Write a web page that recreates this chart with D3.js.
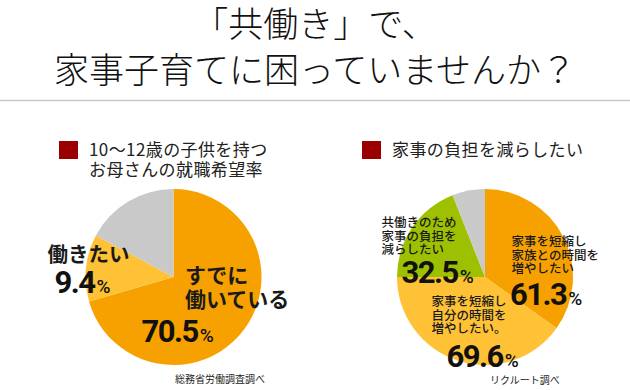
<!DOCTYPE html>
<html lang="ja">
<head>
<meta charset="utf-8">
<script src="https://cdn.jsdelivr.net/npm/d3@7"></script>
<style>
  html, body { margin: 0; padding: 0; background: #fff; }
  svg { display: block; }
  .jp { font-family: "Noto Sans CJK JP", "Noto Sans CJK SC", sans-serif; }
  .num { font-family: Roboto, "Liberation Sans", sans-serif; font-weight: 700; }
</style>
</head>
<body>
<div id="chart"></div>
<script>
// title + headings
var titleLines = ["「共働き」で、", "家事子育てに困っていませんか？"];
var leftHead = ["10～12歳の子供を持つ", "お母さんの就職希望率"];
var rightHead = ["家事の負担を減らしたい"];

// left pie: share of the circle as drawn, and the printed answers
var leftCats = ["すでに働いている", "働きたい", "その他"];
var leftShares = [70.5, 12.3, 17.2];
var leftValues = ["70.5", "9.4", null];
var leftSource = "総務省労働調査調べ";

// right pie (multiple answers, so circle shares differ from printed numbers)
var rightCats = [
  ["家事を短縮し", "家族との時間を", "増やしたい"],
  ["家事を短縮し", "自分の時間を", "増やしたい。"],
  ["共働きのため", "家事の負担を", "減らしたい"],
  []
];
var rightShares = [34.9, 40.1, 19.0, 6.0];
var rightValues = ["61.3", "69.6", "32.5", null];
var rightSource = "リクルート調べ";

var leftColors = ["#f7a100", "#ffc236", "#c9c9c9"];
var rightColors = ["#f7a100", "#ffc236", "#9dc100", "#c9c9c9"];

var width = 630, height = 390, R = 88;

var svg = d3.select("#chart").append("svg")
    .attr("width", width)
    .attr("height", height);

// multi-line text as one element with tspans
function block(parent, x, y, arr, lh) {
    var t = parent.append("text")
        .attr("class", "jp")
        .attr("x", x).attr("y", y);
    t.selectAll("tspan")
        .data(arr)
        .enter().append("tspan")
        .attr("x", x)
        .attr("dy", function(d, i){ return i ? lh : 0; })
        .text(function(d){ return d; });
    return t;
}

// title
block(svg, 315, 37, titleLines, 46)
    .attr("text-anchor", "middle")
    .style("font-size", "35px")
    .style("font-weight", 300)
    .attr("fill", "#111");

svg.append("line")
    .attr("x1", 0).attr("x2", width)
    .attr("y1", 100.5).attr("y2", 100.5)
    .attr("stroke", "#c8c8c8")
    .attr("stroke-width", 1.5);

function heading(x, lines) {
    svg.append("rect")
        .attr("x", x).attr("y", 141)
        .attr("width", 19).attr("height", 18)
        .attr("fill", "#9b0000");
    block(svg, x + 30, 156, lines, 20)
        .style("font-size", "17px")
        .style("letter-spacing", "0.4px")
        .attr("fill", "#222");
}
heading(59, leftHead);
heading(362, rightHead);

var pie = d3.pie().sort(null).value(function(d){ return d; });
var arc = d3.arc().innerRadius(0).outerRadius(R);

function drawPie(cx, cy, shares, colors) {
    var g = svg.append("g").attr("transform", "translate(" + cx + "," + cy + ")");
    g.selectAll("path")
        .data(pie(shares))
        .enter().append("path")
        .attr("d", arc)
        .attr("fill", function(d, i){ return colors[i]; });
    return g;
}

function bigNum(g, x, y, v, size) {
    var t = g.append("text")
        .attr("class", "num")
        .attr("x", x).attr("y", y)
        .attr("fill", "#111")
        .style("font-size", size + "px")
        .style("letter-spacing", "-1.5px");
    t.append("tspan").text(v);
    t.append("tspan")
        .style("font-size", "19px")
        .style("font-weight", 500)
        .style("letter-spacing", "0px")
        .attr("dx", 2)
        .text("%");
}

function label(g, x, y, arr, size, lh, weight) {
    block(g, x, y, arr, lh)
        .style("font-size", size + "px")
        .style("font-weight", weight)
        .attr("fill", "#1a1a1a");
}

// left pie
var gl = drawPie(173.5, 277, leftShares, leftColors);
label(gl, 11.5, 6, ["すでに", "働いている"], 21, 24, 700);
bigNum(gl, -32, 65, leftValues[0], 31);
label(gl, -126, -15, [leftCats[1]], 20.5, 0, 700);
bigNum(gl, -119, 16, leftValues[1], 31);

// right pie
var gr = drawPie(485, 277, rightShares, rightColors);
label(gr, 26.5, -31, rightCats[0], 12.5, 13.5, 500);
bigNum(gr, 25, 28, rightValues[0], 31);
label(gr, -53.5, 29, rightCats[1], 12.5, 13.5, 500);
bigNum(gr, -38.5, 90, rightValues[1], 31);
label(gr, -103.5, -50, rightCats[2], 12.5, 13.5, 500);
bigNum(gr, -83.5, 6, rightValues[2], 31);

// sources
svg.append("text").attr("class", "jp")
    .attr("x", 175).attr("y", 383)
    .style("font-size", "10px")
    .attr("fill", "#222")
    .text(leftSource);
svg.append("text").attr("class", "jp")
    .attr("x", 490).attr("y", 384)
    .style("font-size", "10px")
    .attr("fill", "#222")
    .text(rightSource);
</script>
</body>
</html>
